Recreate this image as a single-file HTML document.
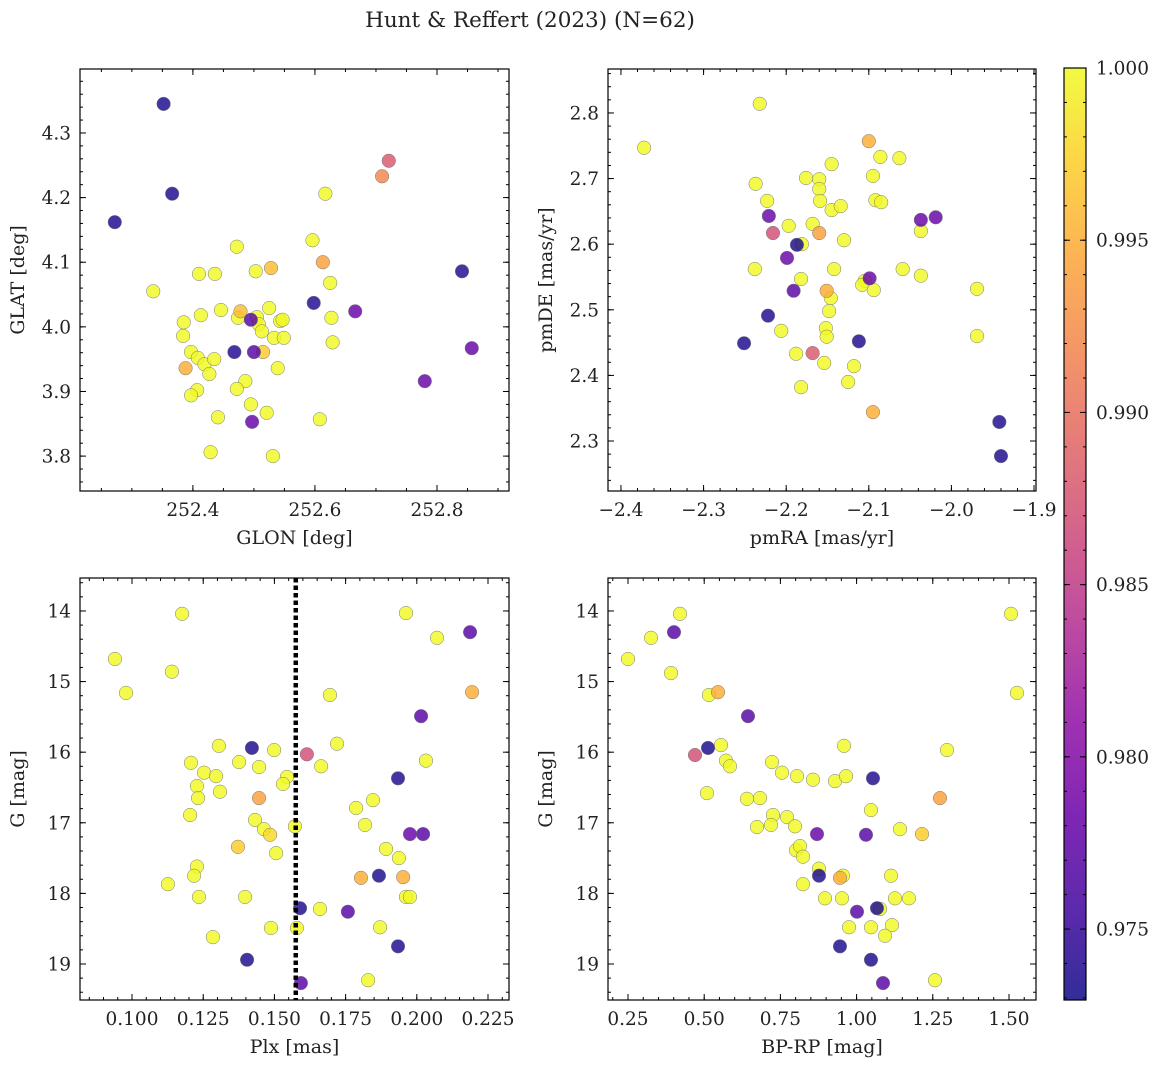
<!DOCTYPE html>
<html><head><meta charset="utf-8">
<style>
body{margin:0;background:#fff;}
svg text{font-family:"DejaVu Serif","Liberation Serif",serif;fill:#222;}
</style></head>
<body>
<svg id="fig" width="1161" height="1068" viewBox="0 0 1161 1068" xmlns="http://www.w3.org/2000/svg">
<text x="530" y="27" font-size="21.5" text-anchor="middle">Hunt &amp; Reffert (2023) (N=62)</text>
</svg>
<script>
// ---- data ----
const p1Glon=[252.352,252.366,252.272,252.721,252.710,252.617,252.596,252.472,252.613,252.335,252.410,252.436,252.503,252.528,252.625,252.598,252.666,252.385,252.413,252.446,252.478,252.474,252.505,252.525,252.495,252.508,252.513,252.543,252.547,252.627,252.384,252.515,252.500,252.468,252.533,252.549,252.629,252.397,252.408,252.419,252.435,252.427,252.388,252.486,252.539,252.472,252.407,252.397,252.495,252.441,252.521,252.497,252.608,252.429,252.531,252.841,252.857,252.780];
const p1Glat=[4.345,4.206,4.162,4.257,4.233,4.206,4.134,4.124,4.100,4.055,4.082,4.082,4.086,4.091,4.068,4.037,4.024,4.007,4.018,4.026,4.024,4.014,4.015,4.029,4.011,4.004,3.993,4.009,4.011,4.014,3.986,3.961,3.961,3.961,3.983,3.983,3.976,3.961,3.952,3.942,3.950,3.927,3.936,3.916,3.936,3.904,3.902,3.894,3.880,3.860,3.867,3.853,3.857,3.806,3.800,4.086,3.967,3.916];
const p1Prob=[0.9735,0.9735,0.9735,0.988,0.992,1,1,1,0.994,1,1,1,1,0.996,1,0.9738,0.978,1,1,1,0.996,1,1,1,0.977,1,1,1,1,1,1,0.997,0.977,0.974,1,1,1,1,1,1,1,1,0.995,1,1,1,1,1,1,1,1,0.978,1,1,1,0.9738,0.978,0.978];

const p2Pmra=[-2.372,-2.232,-2.100,-2.086,-2.063,-2.145,-2.237,-2.176,-2.160,-2.160,-2.145,-2.134,-2.159,-2.095,-2.092,-2.085,-2.223,-2.221,-2.216,-2.197,-2.168,-2.160,-2.130,-2.187,-2.181,-2.199,-2.037,-2.019,-2.037,-2.238,-2.142,-2.059,-2.037,-2.182,-2.191,-2.151,-2.099,-2.105,-2.108,-2.094,-2.146,-2.148,-1.969,-2.222,-2.206,-2.152,-2.151,-1.969,-2.251,-2.112,-2.188,-2.168,-2.154,-2.118,-2.125,-2.182,-2.095,-1.942,-1.940];
const p2Pmde=[2.747,2.814,2.757,2.733,2.731,2.722,2.692,2.701,2.699,2.684,2.652,2.658,2.666,2.704,2.667,2.664,2.666,2.643,2.617,2.628,2.631,2.617,2.606,2.599,2.600,2.579,2.637,2.641,2.620,2.562,2.562,2.562,2.552,2.547,2.529,2.529,2.548,2.544,2.538,2.530,2.518,2.498,2.532,2.491,2.468,2.472,2.459,2.460,2.449,2.452,2.433,2.434,2.419,2.414,2.390,2.382,2.344,2.329,2.277];
const p2Prob=[1,1,0.995,1,1,1,1,1,1,1,1,1,1,1,1,1,1,0.978,0.987,1,1,0.994,1,0.9735,1,0.978,0.978,0.978,1,1,1,1,1,1,0.977,0.995,0.978,1,1,1,1,1,1,0.9735,1,1,1,1,0.9735,0.9738,1,0.988,1,1,1,1,0.995,0.9735,0.9735];

const p3Plx=[0.0940,0.1176,0.0979,0.1140,0.1305,0.1421,0.1499,0.1207,0.1376,0.1253,0.1295,0.1228,0.1232,0.1309,0.1446,0.1544,0.1530,0.1614,0.1695,0.1664,0.1720,0.1962,0.2071,0.2187,0.2194,0.2015,0.2032,0.1934,0.1446,0.1787,0.1846,0.1818,0.1204,0.1432,0.1463,0.1485,0.1372,0.1506,0.1572,0.1976,0.2022,0.1892,0.1937,0.1228,0.1218,0.1126,0.1235,0.1397,0.1804,0.1867,0.1952,0.1962,0.1976,0.1590,0.1758,0.1660,0.1284,0.1488,0.1579,0.1871,0.1934,0.1404,0.1593,0.1829];
const p3G=[14.68,14.04,15.16,14.86,15.91,15.94,15.97,16.15,16.14,16.29,16.34,16.48,16.65,16.56,16.21,16.35,16.45,16.03,15.19,16.20,15.88,14.03,14.38,14.30,15.15,15.49,16.12,16.37,16.65,16.79,16.68,17.03,16.89,16.96,17.09,17.17,17.34,17.43,17.05,17.16,17.16,17.37,17.50,17.62,17.75,17.87,18.05,18.05,17.78,17.75,17.77,18.05,18.05,18.21,18.26,18.22,18.62,18.49,18.49,18.48,18.75,18.94,19.27,19.23];
const p3Prob=[1,1,1,1,1,0.9735,1,1,1,1,1,1,1,1,1,1,1,0.987,1,1,1,1,1,0.977,0.995,0.977,1,0.9738,0.994,1,1,1,1,1,1,0.998,0.997,1,1,0.978,0.977,1,1,1,1,1,1,1,0.995,0.9735,0.995,1,1,0.9735,0.977,1,1,1,1,1,0.9735,0.9735,0.977,1];
const plxCut=0.1575;

const p4Bprp=[1.5066,0.4206,0.3255,0.4009,0.25,0.3911,0.5453,0.5157,0.6437,0.4698,0.5125,0.5551,0.5715,0.5846,0.9587,1.2966,0.7224,0.7552,0.8045,0.8570,0.9291,0.9652,1.0538,0.5092,0.6831,0.6404,1.2736,1.0472,1.1424,1.2146,0.8701,1.0308,0.7257,0.7192,0.7717,0.7979,0.6732,0.8012,0.8143,0.8241,0.8766,0.9554,0.9455,0.8766,1.1129,0.8241,1.1719,1.1260,0.8963,0.9521,1.0013,1.0669,1.0768,0.9751,1.0472,1.1161,1.0932,0.9455,1.0472,1.0866,1.2572,1.5262];
const p4G=[14.04,14.04,14.38,14.30,14.68,14.88,15.15,15.19,15.49,16.04,15.94,15.90,16.12,16.20,15.91,15.97,16.14,16.29,16.34,16.39,16.41,16.34,16.37,16.58,16.65,16.66,16.65,16.82,17.09,17.16,17.16,17.17,16.89,17.03,16.92,17.05,17.06,17.39,17.33,17.48,17.65,17.75,17.78,17.75,17.75,17.87,18.07,18.07,18.07,18.07,18.26,18.21,18.22,18.48,18.48,18.45,18.60,18.75,18.94,19.27,19.23,15.16];
const p4Prob=[1,1,1,0.977,1,1,0.995,1,0.977,0.987,0.9735,1,1,1,1,1,1,1,1,1,1,1,0.9738,1,1,1,0.994,1,1,0.997,0.978,0.977,1,1,1,1,1,1,1,1,1,1,0.995,0.9735,1,1,1,1,1,1,0.977,0.9735,1,1,1,1,1,0.9735,0.9735,0.977,1,1];

const cbTicks=[0.975,0.980,0.985,0.990,0.995,1.000];
const vmin=0.97294, vmax=1.0;

// ---- helpers ----
const NS="http://www.w3.org/2000/svg";
const svg=document.getElementById('fig');
function mk(tag,attrs,parent){const e=document.createElementNS(NS,tag);for(const k in attrs)e.setAttribute(k,attrs[k]);(parent||svg).appendChild(e);return e;}
const stops=["#0d0887","#41049d","#6a00a8","#8f0da4","#b12a90","#cc4778","#e16462","#f2844b","#fca636","#fcce25","#f0f921"];
function hex(h){return [parseInt(h.slice(1,3),16),parseInt(h.slice(3,5),16),parseInt(h.slice(5,7),16)];}
function plasma(t){t=Math.max(0,Math.min(1,t));const f=t*10,i=Math.min(9,Math.floor(f)),r=f-i;const a=hex(stops[i]),b=hex(stops[i+1]);return `rgb(${a.map((v,k)=>Math.round(v+(b[k]-v)*r)).join(',')})`;}
function fmt(v,d){return v.toFixed(d).replace('-','\u2212');}
const TF=18.5, AF=19;

function panel(name,box,xd,yd,xMaj,xMin,yMaj,yMin,xDec,yDec,xLabel,yLabel,xs,ys,ps,inv){
  const [L,T,R,B]=box;
  const g=mk('g',{});
  
  
  const sx=v=>L+(v-xd[0])/(xd[1]-xd[0])*(R-L);
  const sy=inv?(v=>T+(v-yd[0])/(yd[1]-yd[0])*(B-T)):(v=>B-(v-yd[0])/(yd[1]-yd[0])*(B-T));
  const ticks=(lo,hi,st)=>{const a=[];for(let k=Math.ceil(lo/st-1e-6);k*st<=hi+1e-9;k++)a.push(+(k*st).toFixed(6));return a;};
  const tg=mk('g',{stroke:'#000','stroke-width':1},g);
  
  
  ticks(xd[0],xd[1],xMin).forEach(v=>{const x=sx(v);mk('line',{x1:x,x2:x,y1:B,y2:B-3},tg);mk('line',{x1:x,x2:x,y1:T,y2:T+3},tg);});
  const ylo=Math.min(yd[0],yd[1]),yhi=Math.max(yd[0],yd[1]);
  ticks(ylo,yhi,yMin).forEach(v=>{const y=sy(v);mk('line',{x1:L,x2:L+3,y1:y,y2:y},tg);mk('line',{x1:R,x2:R-3,y1:y,y2:y},tg);});
  ticks(xd[0],xd[1],xMaj).forEach(v=>{const x=sx(v);mk('line',{x1:x,x2:x,y1:B,y2:B-6},tg);mk('line',{x1:x,x2:x,y1:T,y2:T+6},tg);
    const t=mk('text',{x:x,y:B+25,'font-size':TF,'text-anchor':'middle'},g);t.textContent=fmt(v,xDec);
    });
  ticks(ylo,yhi,yMaj).forEach(v=>{const y=sy(v);mk('line',{x1:L,x2:L+6,y1:y,y2:y},tg);mk('line',{x1:R,x2:R-6,y1:y,y2:y},tg);
    const t=mk('text',{x:L-9,y:y+6.5,'font-size':TF,'text-anchor':'end'},g);t.textContent=fmt(v,yDec);
    });
  const xl=mk('text',{x:(L+R)/2,y:B+53,'font-size':AF,'text-anchor':'middle'},g);xl.textContent=xLabel;
  
  const yl=mk('text',{x:0,y:0,'font-size':AF,'text-anchor':'middle',transform:`translate(${L-56},${(T+B)/2}) rotate(-90)`},g);yl.textContent=yLabel;
  
  const pg=mk('g',{},g);
  
  
  const idx=xs.map((_,i)=>i).sort((a,b)=>ps[b]-ps[a]);
  idx.forEach(i=>{const c=mk('circle',{cx:sx(xs[i]),cy:sy(ys[i]),r:6.8,fill:plasma((ps[i]-vmin)/(vmax-vmin)),'fill-opacity':0.82,stroke:'#777','stroke-width':0.5},pg);
    
    });
  const fr=mk('rect',{x:L,y:T,width:R-L,height:B-T,fill:'none',stroke:'#000','stroke-width':1.2},g);
  
  
  return {sx,sy,g};
}

panel('glon-glat-panel',[80,69,509,491],[252.215,252.918],[3.746,4.399],0.2,0.05,0.1,0.02,1,1,'GLON [deg]','GLAT [deg]',p1Glon,p1Glat,p1Prob,false);
panel('pm-panel',[608,69,1036,491],[-2.4157,-1.8976],[2.2238,2.867],0.1,0.02,0.1,0.02,1,1,'pmRA [mas/yr]','pmDE [mas/yr]',p2Pmra,p2Pmde,p2Prob,false);
const p3=panel('plx-g-panel',[80,578,509,1000],[0.08174,0.23237],[13.533,19.51],0.025,0.005,1,0.2,3,0,'Plx [mas]','G [mag]',p3Plx,p3G,p3Prob,true);
const cut=mk('line',{x1:p3.sx(plxCut),x2:p3.sx(plxCut),y1:578,y2:1000,stroke:'#000','stroke-width':4.5,'stroke-dasharray':'4.5,3'},p3.g);


panel('cmd-panel',[608,578,1036,1000],[0.1844,1.5886],[13.533,19.51],0.25,0.05,1,0.2,2,0,'BP-RP [mag]','G [mag]',p4Bprp,p4G,p4Prob,true);

// colorbar
const cb=mk('g',{});


const defs=mk('defs',{},cb);
const lg=mk('linearGradient',{id:'pl',x1:0,y1:1,x2:0,y2:0},defs);
for(let i=0;i<=20;i++)mk('stop',{offset:i/20,'stop-color':plasma(i/20),'stop-opacity':0.85},lg);
const CL=1064,CR=1086,CT=68,CB=1000;
mk('rect',{x:CL,y:CT,width:CR-CL,height:CB-CT,fill:'url(#pl)',stroke:'#000','stroke-width':1.2},cb);
const cy=v=>CB-(v-vmin)/(vmax-vmin)*(CB-CT);
for(let k=973;k<=1000;k++){const y=cy(k/1000);mk('line',{x1:CR,x2:CR-3,y1:y,y2:y,stroke:'#000'},cb);mk('line',{x1:CL,x2:CL+3,y1:y,y2:y,stroke:'#000'},cb);}
cbTicks.forEach(v=>{const y=cy(v);mk('line',{x1:CR,x2:CR-6,y1:y,y2:y,stroke:'#000'},cb);mk('line',{x1:CL,x2:CL+6,y1:y,y2:y,stroke:'#000'},cb);
  const t=mk('text',{x:CR+10,y:y+6.5,'font-size':TF},cb);t.textContent=v.toFixed(3);
  
  });
</script>
</body></html>
